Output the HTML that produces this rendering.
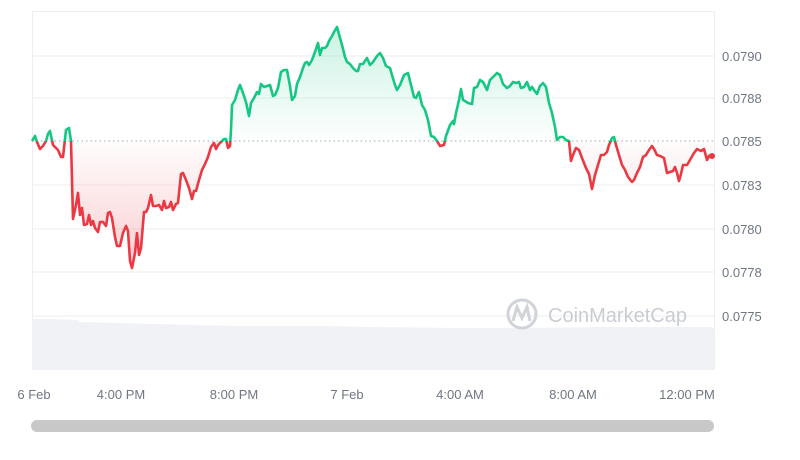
<!DOCTYPE html>
<html><head><meta charset="utf-8"><style>
body{margin:0;background:#fff;width:800px;height:460px;overflow:hidden}
svg{display:block;font-family:"Liberation Sans",Arial,sans-serif}
</style></head><body>
<svg width="800" height="460" viewBox="0 0 800 460">
<defs>
<linearGradient id="gg" gradientUnits="userSpaceOnUse" x1="0" y1="27" x2="0" y2="141"><stop offset="0" stop-color="#16c784" stop-opacity="0.22"/><stop offset="1" stop-color="#16c784" stop-opacity="0.01"/></linearGradient>
<linearGradient id="rg" gradientUnits="userSpaceOnUse" x1="0" y1="141" x2="0" y2="268"><stop offset="0" stop-color="#ea3943" stop-opacity="0.01"/><stop offset="1" stop-color="#ea3943" stop-opacity="0.25"/></linearGradient>
<clipPath id="up"><rect x="0" y="0" width="800" height="141"/></clipPath>
<clipPath id="dn"><rect x="0" y="141" width="800" height="300"/></clipPath>
</defs>
<line x1="32" y1="11.5" x2="714" y2="11.5" stroke="#eee"/>
<line x1="714.5" y1="11" x2="714.5" y2="370" stroke="#eee"/>
<line x1="32.5" y1="11" x2="32.5" y2="370" stroke="#eee"/>
<g stroke="#eee" stroke-width="1">
<line x1="32" y1="56" x2="714" y2="56"/><line x1="32" y1="98" x2="714" y2="98"/>
<line x1="32" y1="185" x2="714" y2="185"/><line x1="32" y1="229" x2="714" y2="229"/>
<line x1="32" y1="272" x2="714" y2="272"/><line x1="32" y1="316" x2="714" y2="316"/>
</g>
<polygon fill="#f0f2f5" points="32,319 50,319 78,320 80,322 120,323 190,325 240,326 330,326 370,327 460,328 520,328 600,327 680,327 712,327 714,329 714,370 32,370"/>
<g>
<circle cx="522" cy="314" r="14" fill="none" stroke="#d0d3d8" stroke-width="3"/>
<path d="M513,321 L517,307 L522,318 L527,307 L530,321" fill="none" stroke="#d0d3d8" stroke-width="3"/>
<text x="548" y="322" font-size="20" fill="#c9cdd3">CoinMarketCap</text>
</g>
<g id="ln">
<polyline id="p" fill="none" stroke-width="2.6" stroke-linejoin="round" points="32,141 35,136 37,142 40,149 43,146 46,141 48,134 50,131 53,145 56,148 58,150 61,157 63,157 66,130 69,128 71,141 73,219 76,205 78,193 80,215 82,208 84,225 87,224 89,215 91,225 93,221 95,228 98,232 100,222 103,222 106,226 108,213 110,212 112,218 115,237 117,246 120,246 123,233 126,226 128,231 130,261 132,268 135,253 137,233 139,255 141,248 144,212 146,212 148,208 151,195 153,206 156,206 159,205 162,210 164,201 166,208 169,207 171,202 173,210 176,204 178,203 181,174 183,173 186,180 189,188 192,199 194,191 196,191 199,180 202,170 205,164 208,157 211,147 214,143 216,149 218,145 221,142 224,139 226,139 228,148 230,146 231,130 232,105 235,100 238,90 240,85 243,93 246,102 249,116 251,103 254,98 257,92 259,94 261,84 264,87 267,86 270,85 273,96 275,95 278,88 281,72 284,70 287,70 290,86 292,100 295,96 297,84 300,77 303,68 305,63 307,62 309,65 312,60 315,52 318,43 320,55 322,48 325,48 327,46 329,41 332,36 334,32 337,27 340,38 342,45 345,57 347,62 350,64 353,68 356,71 358,71 360,64 363,64 367,58 370,65 373,62 377,56 380,53 383,58 386,66 390,68 392,75 395,85 397,90 400,85 402,80 404,75 408,73 411,85 414,97 416,98 419,92 422,105 425,110 428,120 431,136 434,137 437,141 440,146 444,145 446,136 450,125 453,121 454,124 456,113 459,100 461,89 463,100 465,101 468,103 472,104 474,88 477,87 480,80 483,82 487,90 490,80 494,76 497,73 500,75 503,84 507,88 510,86 513,82 516,83 519,82 521,88 524,87 527,82 530,90 532,87 534,90 537,94 540,86 543,83 546,87 549,103 552,113 555,127 557,140 560,137 563,137 566,140 569,141 571,161 573,155 576,148 579,150 582,158 586,168 589,174 592,189 595,175 598,165 601,155 604,155 607,152 609,145 612,138 614,137 616,145 619,155 622,165 625,170 628,177 632,182 634,180 637,173 640,167 643,157 646,155 649,150 652,146 654,149 657,155 660,156 664,158 667,173 670,172 673,171 675,167 677,173 679,181 681,174 683,165 687,165 690,160 694,153 697,149 701,151 704,149 707,160 709,156 711,155 714,156"/>
</g>
<line x1="32" y1="141" x2="714" y2="141" stroke="#aaa" stroke-dasharray="1.5,3"/>
<use href="#p" stroke="#16c784" clip-path="url(#up)"/>
<use href="#p" stroke="#ea3943" clip-path="url(#dn)"/>
<circle cx="712" cy="156" r="3" fill="#ea3943"/>
<g font-size="13" fill="#6f7683">
<text x="722" y="61">0.0790</text><text x="722" y="103">0.0788</text>
<text x="722" y="146">0.0785</text><text x="722" y="190">0.0783</text>
<text x="722" y="234">0.0780</text><text x="722" y="277">0.0778</text>
<text x="722" y="321">0.0775</text>
</g>
<g font-size="13" fill="#6f7683" text-anchor="middle">
<text x="34" y="399">6 Feb</text><text x="121" y="399">4:00 PM</text>
<text x="234" y="399">8:00 PM</text><text x="347" y="399">7 Feb</text>
<text x="460" y="399">4:00 AM</text><text x="573" y="399">8:00 AM</text>
<text x="687" y="399">12:00 PM</text>
</g>
<rect x="31" y="420" width="683" height="12" rx="6" fill="#c8c8c8"/>
<script>
var p=document.getElementById('p').getAttribute('points');
var svgns="http://www.w3.org/2000/svg";
function mk(fill,clip){var g=document.createElementNS(svgns,'polygon');g.setAttribute('points','32,141 '+p+' 714,141');g.setAttribute('fill',fill);g.setAttribute('clip-path',clip);var s=document.querySelector('svg');s.insertBefore(g,document.getElementById('ln'));}
mk('url(#gg)','url(#up)');mk('url(#rg)','url(#dn)');
</script>
<style>#ln{display:none}</style>
</svg>
</body></html>
